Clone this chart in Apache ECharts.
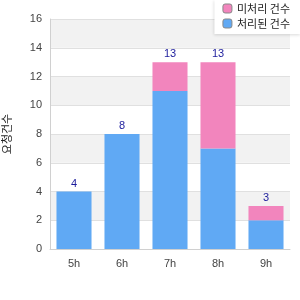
<!DOCTYPE html>
<html>
<head>
<meta charset="utf-8">
<script src="https://cdn.jsdelivr.net/npm/echarts@6/dist/echarts.min.js"></script>
<style>
  html, body { margin: 0; padding: 0; background: #fff; }
  #chart { width: 300px; height: 300px; }
</style>
</head>
<body>
<div id="chart"></div>
<script>
// data
const hours = ['5h', '6h', '7h', '8h', '9h'];
const doneCounts = [4, 8, 11, 7, 2];      // blue
const pendingCounts = [0, 0, 2, 6, 1];    // pink
const totals = [4, 8, 13, 13, 3];
const seriesNames = ['처리된 건수', '미처리 건수'];
const yAxisName = '요청건수';

const chart = echarts.init(document.getElementById('chart'));

const option = {
  animation: false,
  textStyle: { fontFamily: 'Liberation Sans, Arial, sans-serif' },
  grid: { left: 50, right: 10, top: 19, bottom: 51, outerBoundsMode: 'none', containLabel: false },
  legend: {
    data: [seriesNames[1], seriesNames[0]],
    orient: 'vertical',
    right: 0,
    top: 0,
    padding: [3, 10, 5, 8],
    itemGap: 4,
    itemWidth: 9,
    itemHeight: 9,
    backgroundColor: '#fff',
    shadowColor: 'rgba(0,0,0,0.15)',
    shadowBlur: 3,
    shadowOffsetY: 1,
    textStyle: { fontSize: 11, color: '#222', fontFamily: 'Noto Sans CJK KR' },
    itemStyle: { borderColor: '#888', borderWidth: 1 }
  },
  xAxis: {
    type: 'category',
    data: hours,
    axisLine: { lineStyle: { color: '#d0d0d0' } },
    axisTick: { show: false },
    axisLabel: { color: '#444', fontSize: 11, margin: 9 }
  },
  yAxis: {
    type: 'value',
    min: 0,
    max: 16,
    interval: 2,
    name: yAxisName,
    nameLocation: 'middle',
    nameRotate: 90,
    nameGap: 38,
    nameTextStyle: { fontSize: 11, color: '#222', fontFamily: 'Noto Sans CJK KR' },
    axisLine: { show: true, lineStyle: { color: '#d0d0d0' } },
    axisLabel: { color: '#444', fontSize: 11, margin: 8 },
    splitLine: { lineStyle: { color: '#e0e0e0' } },
    splitArea: { show: true, areaStyle: { color: ['#fff', '#f2f2f2'] } }
  },
  series: [
    {
      name: seriesNames[0],
      type: 'bar',
      stack: 'total',
      barWidth: '73%',
      itemStyle: { color: '#60a9f4' },
      data: doneCounts
    },
    {
      name: seriesNames[1],
      type: 'bar',
      stack: 'total',
      itemStyle: { color: '#f285bd' },
      data: pendingCounts
    },
    {
      name: 'total',
      type: 'line',
      data: totals,
      symbol: 'circle',
      symbolSize: 1,
      showSymbol: true,
      itemStyle: { color: 'rgba(0,0,0,0)' },
      lineStyle: { opacity: 0 },
      silent: true,
      label: {
        show: true,
        position: 'top',
        distance: 2,
        color: '#1c1c9c',
        fontSize: 11
      }
    }
  ]
};

chart.setOption(option);
</script>
</body>
</html>
